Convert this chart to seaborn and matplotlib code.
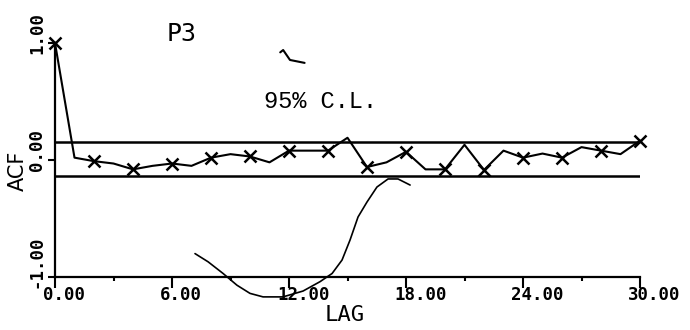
import numpy as np
import pandas as pd
import matplotlib
matplotlib.use("Agg")
import matplotlib.pyplot as plt
from matplotlib.transforms import offset_copy
import seaborn as sns

# Sample autocorrelation of series P3, lags 0..30
lags = list(range(31))
acf = [1.00, 0.02, -0.01, -0.03, -0.08, -0.05, -0.03, -0.05, 0.02, 0.05,
       0.03, -0.02, 0.08, 0.08, 0.08, 0.19, -0.06, -0.02, 0.07, -0.08,
       -0.08, 0.13, -0.085, 0.08, 0.02, 0.055, 0.02, 0.11, 0.08, 0.05,
       0.165]

# 95% confidence limits
upper_cl = 0.15
lower_cl = -0.14

# Axis ticks and their labels
x_ticks = [0, 6, 12, 18, 24, 30]
x_tick_labels = ["0.00", "6.00", "12.00", "18.00", "24.00", "30.00"]
x_minor = [3, 9, 15, 21, 27]
y_ticks = [1.0, 0.0, -1.0]
y_tick_labels = ["1.00", "0.00", "-1.00"]

# Pen strokes drawn over the plot by hand (lag, ACF units)
stroke_lag = [7.18, 7.85, 8.62, 9.33, 10.0, 10.67, 11.69, 12.72, 13.59, 14.21,
              14.72, 15.13, 15.54, 16.0, 16.51, 17.08, 17.59, 18.21]
stroke_val = [-0.80, -0.87, -0.97, -1.07, -1.14, -1.17, -1.17, -1.12, -1.04,
              -0.97, -0.855, -0.684, -0.487, -0.359, -0.231, -0.162, -0.162,
              -0.214]
tick_lag = [11.55, 11.7, 12.05, 12.8]
tick_val = [0.92, 0.94, 0.855, 0.83]

df = pd.DataFrame({"lag": lags, "acf": acf})

sns.set_style("ticks")
plt.rcParams["font.family"] = ["DejaVu Sans"]

fig = plt.figure(figsize=(6.9, 3.3), dpi=100)
ax = fig.add_axes([55 / 690, 53 / 330, 585 / 690, 234 / 330])

sns.lineplot(data=df, x="lag", y="acf", ax=ax, color="black", lw=1.5,
             marker="x", markersize=9, markeredgewidth=1.8,
             markeredgecolor="black", markerfacecolor="black", markevery=2,
             clip_on=False, legend=False)

ax.axhline(upper_cl, color="black", lw=1.8, zorder=1)
ax.axhline(lower_cl, color="black", lw=1.8, zorder=1)

ax.plot(stroke_lag, stroke_val, color="black", lw=1.2, clip_on=False,
        solid_capstyle="round")
ax.plot(tick_lag, tick_val, color="black", lw=1.5, clip_on=False,
        solid_capstyle="round")

ax.set_xlim(0, 30)
ax.set_ylim(-1, 1)
ax.set_xticks(x_ticks)
ax.set_xticks(x_minor, minor=True)
ax.set_yticks(y_ticks)
ax.set_xticklabels([])
ax.set_yticklabels([])
ax.tick_params(axis="x", which="major", direction="out", length=8, width=1.5,
               color="black")
ax.tick_params(axis="x", which="minor", direction="out", length=3, width=1.5,
               color="black")
ax.tick_params(axis="y", which="major", direction="out", length=5, width=1.5,
               color="black")
ax.set_xlabel("")
ax.set_ylabel("")

for side in ("top", "right"):
    ax.spines[side].set_visible(False)
for side in ("left", "bottom"):
    ax.spines[side].set_linewidth(1.6)
    ax.spines[side].set_color("black")

tick_font = dict(family="DejaVu Sans Mono", weight="bold", size=12.5,
                 color="black")

x_trans = offset_copy(ax.get_xaxis_transform(), fig=fig, x=-12, y=-18,
                      units="dots")
for pos, lab in zip(x_ticks, x_tick_labels):
    ax.text(pos, 0, lab, transform=x_trans, ha="left", va="center",
            **tick_font)

y_trans = offset_copy(ax.get_yaxis_transform(), fig=fig, x=-18, y=-11,
                      units="dots")
for pos, lab in zip(y_ticks, y_tick_labels):
    ax.text(0, pos, lab, transform=y_trans, rotation=90, ha="center",
            va="bottom", **tick_font)

fig.text(18 / 690, 1 - 171 / 330, "ACF", rotation=90, ha="center",
         va="center", family="DejaVu Sans", size=15, color="black")
fig.text(345 / 690, 1 - 315 / 330, "LAG", ha="center", va="center",
         family="DejaVu Sans Mono", size=16, color="black")
fig.text(182 / 690, 1 - 34 / 330, "P3", ha="center", va="center",
         family="DejaVu Sans Mono", size=18, color="black")
fig.text(320 / 690, 1 - 102 / 330, "95% C.L.", ha="center", va="center",
         family="Liberation Mono", size=17, color="black")

fig.savefig("out.png", dpi=100, facecolor="white")
